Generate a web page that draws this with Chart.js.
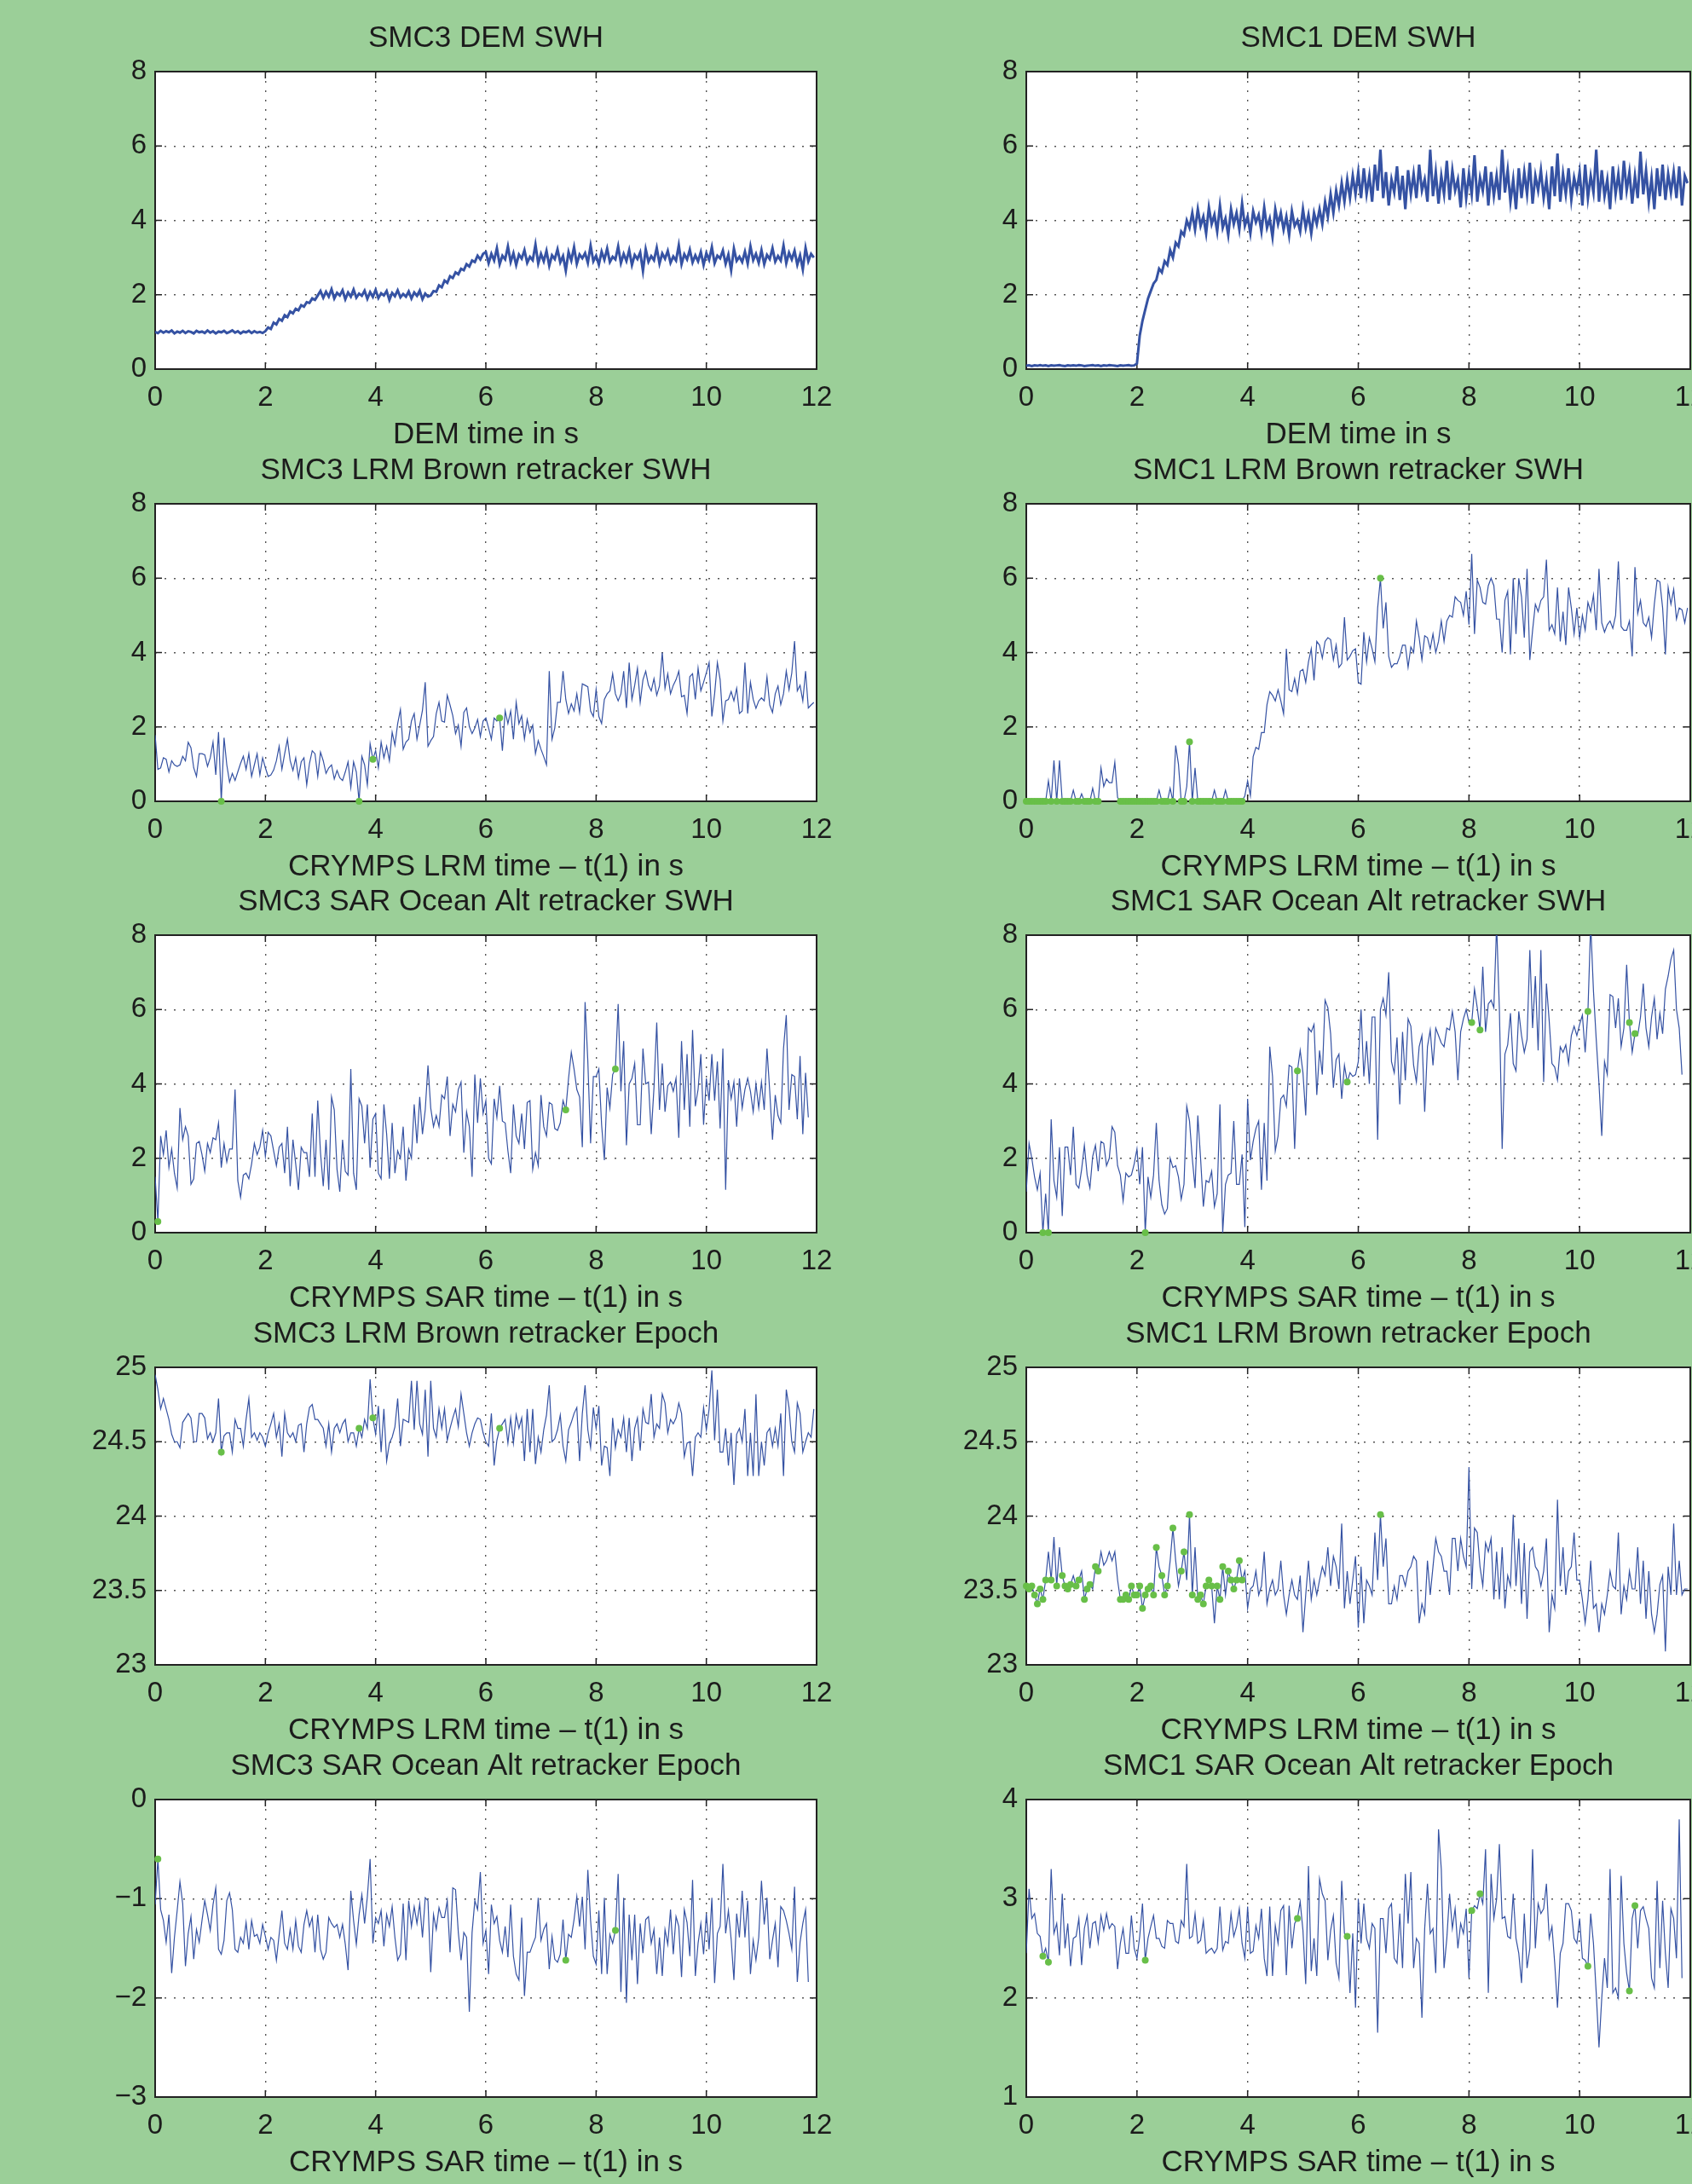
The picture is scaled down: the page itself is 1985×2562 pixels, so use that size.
<!DOCTYPE html>
<html>
<head>
<meta charset="utf-8">
<script src="https://cdn.jsdelivr.net/npm/chart.js@4.4.0/dist/chart.umd.min.js"></script>
<style>
  html, body { margin: 0; padding: 0; overflow: hidden; }
  body { background: #9bcf98; width: 1985px; height: 2562px; position: relative; }
  canvas { position: absolute; }
</style>
</head>
<body>
<script>
// sample spacing (20 Hz) and axis ticks
const timeStep = 0.05;
const timeTicks = [0, 2, 4, 6, 8, 10, 12];
const swhTicks = [0, 2, 4, 6, 8];
const lrmEpochTicks = [23, 23.5, 24, 24.5, 25];
const sar3EpochTicks = [-3, -2, -1, 0];
const sar1EpochTicks = [1, 2, 3, 4];

// DEM SWH
const dem3Swh = [1.00,0.97,1.03,0.98,1.02,0.99,1.04,0.96,1.01,0.98,1.03,0.97,1.02,1.00,0.96,1.03,0.99,1.01,0.97,1.04,
  0.98,1.02,0.96,1.01,0.99,1.03,0.97,1.00,1.04,0.98,1.02,0.96,1.01,0.99,1.03,0.97,1.02,0.98,1.00,0.97,
  1.02,1.12,1.08,1.25,1.20,1.35,1.30,1.45,1.40,1.55,1.50,1.62,1.58,1.72,1.68,1.80,1.78,1.90,1.86,1.98,
  2.10,1.92,2.08,1.95,2.15,1.90,2.05,1.98,2.12,1.88,2.06,1.95,2.14,1.92,2.03,1.97,2.11,1.89,2.07,1.94,
  2.13,1.91,2.04,1.98,2.10,1.86,2.05,1.96,2.12,1.93,2.02,1.95,2.09,1.90,2.06,1.97,2.11,1.88,2.03,1.95,
  1.98,2.10,2.08,2.25,2.20,2.38,2.32,2.50,2.45,2.60,2.55,2.70,2.66,2.82,2.76,2.92,2.88,3.05,2.95,3.10,
  3.15,2.85,3.10,2.92,3.25,2.82,3.05,2.95,3.30,2.88,3.12,2.80,3.08,2.97,3.20,2.86,3.02,2.93,3.35,2.84,
  3.10,2.90,3.18,2.78,3.06,2.96,3.22,2.87,3.04,2.65,3.15,2.92,3.28,2.83,3.08,2.98,3.12,2.86,3.32,2.90,
  3.05,2.81,3.16,2.94,3.24,2.88,3.02,2.95,3.30,2.85,3.10,2.91,3.20,2.80,3.07,2.96,3.14,2.64,3.22,2.89,
  3.04,2.93,3.26,2.84,3.11,2.97,3.18,2.86,3.03,2.92,3.33,2.82,3.09,2.95,3.21,2.87,3.06,2.90,3.15,2.80,
  3.12,2.94,3.28,2.85,3.05,2.98,3.19,2.83,3.08,2.66,3.24,2.91,3.02,2.88,3.16,2.84,3.30,2.93,3.10,2.86,
  3.20,2.82,3.07,2.96,3.25,2.89,3.04,2.92,3.32,2.85,3.13,2.95,3.18,2.81,3.06,2.68,3.26,2.90,3.10,3.00];
const dem1Swh = [0.09,0.10,0.08,0.10,0.09,0.11,0.09,0.10,0.08,0.10,0.09,0.10,0.11,0.09,0.08,0.10,0.09,0.10,0.09,0.11,
  0.10,0.08,0.09,0.10,0.11,0.09,0.10,0.08,0.10,0.09,0.11,0.10,0.09,0.08,0.10,0.09,0.10,0.11,0.09,0.10,
  0.15,0.9,1.3,1.6,1.9,2.1,2.3,2.4,2.7,2.6,2.9,2.8,3.2,3.0,3.4,3.3,3.7,3.6,4.0,3.8,
  4.2,3.75,4.3,3.85,4.1,3.65,4.35,3.9,4.15,3.7,4.4,3.8,4.05,3.6,4.3,3.9,4.2,3.75,4.45,3.85,
  4.1,3.65,4.25,3.95,4.15,3.7,4.35,3.8,4.05,3.55,4.3,3.9,4.2,3.75,4.1,3.6,4.25,3.85,4.0,3.7,
  4.3,3.8,4.15,3.65,4.2,3.9,4.3,3.9,4.5,4.1,4.7,4.2,4.8,4.4,5.0,4.5,5.1,4.6,5.2,4.7,
  5.3,4.6,5.4,4.7,5.2,4.5,5.5,4.8,5.9,4.6,5.3,4.4,5.1,4.75,5.45,4.55,5.2,4.3,5.35,4.7,
  5.25,4.6,5.5,4.8,5.1,4.5,5.9,4.65,5.3,4.45,5.2,4.7,5.6,4.55,5.35,4.8,5.1,4.35,5.4,4.6,
  5.25,4.7,5.75,4.5,5.15,4.8,5.45,4.4,5.3,4.65,5.2,4.55,5.9,4.75,5.35,4.5,5.1,4.3,5.4,4.6,
  5.3,4.7,5.55,4.45,5.2,4.8,5.35,4.6,5.1,4.3,5.45,4.65,5.8,4.5,5.25,4.7,5.4,4.55,5.15,4.8,
  5.3,4.4,5.5,4.6,5.2,4.75,5.9,4.5,5.35,4.65,5.1,4.3,5.45,4.7,5.25,4.55,5.6,4.8,5.3,4.45,
  5.2,4.6,5.85,4.7,5.35,4.5,5.15,4.3,5.4,4.65,5.5,4.55,5.25,4.75,5.3,4.6,5.45,4.4,5.2,5.0];

// LRM Brown retracker SWH
const lrm3Swh = [1.78,0.86,0.90,1.17,1.13,0.79,1.09,0.98,0.94,0.98,1.21,1.09,1.59,1.44,0.90,0.67,1.28,1.28,1.25,0.94,
  1.17,1.59,0.71,1.86,0,
  1.71,0.98,0.52,0.75,0.56,0.79,1.02,1.21,0.86,1.28,0.67,0.98,1.28,0.71,1.17,0.90,0.67,0.71,0.84,1.09,
  1.48,0.86,1.28,1.67,1.09,0.83,1.17,0.63,1.06,1.17,0.44,1.02,1.36,1.28,0.67,1.32,1.09,0.75,0.90,0.98,
  0.60,0.83,0.63,0.56,0.79,1.06,0.37,1.06,0.79,
  0,
  1.21,0.98,0.44,1.55,1.13,1.36,0.90,1.59,1.17,1.48,1.09,1.86,1.51,2.09,2.47,1.40,1.59,1.67,2.16,2.36,
  1.67,2.05,2.45,3.20,
  1.48,1.63,1.74,2.36,2.66,2.16,2.13,2.85,2.59,2.30,1.82,2.05,1.48,2.39,2.51,2.01,1.82,1.97,2.20,1.74,
  2.16,2.24,1.97,1.67,2.24,2.16,2.24,1.36,2.43,2.09,2.43,1.67,2.66,2.09,2.30,1.67,2.20,1.85,2.05,1.28,
  1.63,1.40,1.20,
  0.98,3.50,
  1.67,1.97,2.66,2.66,3.50,2.74,2.36,2.62,2.43,2.89,2.39,3.16,3.12,3.08,2.43,2.28,3.01,2.28,2.09,2.74,
  2.89,2.97,3.43,2.89,2.70,2.89,3.50,2.51,3.73,2.74,3.12,3.58,2.66,3.27,3.50,3.12,2.97,3.30,2.85,3.10,
  4.00,
  3.04,3.43,2.89,3.12,3.27,3.50,2.81,2.85,2.36,3.35,3.43,2.74,3.58,2.97,3.20,3.46,3.73,2.28,2.89,3.73,
  3.27,2.16,2.70,2.74,2.95,2.70,3.04,2.36,2.43,3.73,2.36,3.20,2.74,2.50,2.70,2.78,2.70,3.35,2.59,2.39,
  2.89,3.10,2.60,2.89,3.50,3.00,3.45,
  4.31,
  2.97,3.12,2.70,3.50,2.51,2.59,2.66];
const lrm1Swh = [0,0,0,0,0,0,0,0,0.55,0,1.1,0,1.1,0,0,0,0,0.3,0,0,
  0.2,0,0,0,0.35,0,0,0.9,0.4,0.6,0.5,0.5,1.05,0.1,0,0,0,0,0,0,
  0,0,0,0,0,0,0,0,0.3,0,0,0,0.35,0,1.5,1.0,0,0,0.4,1.6,
  0,0.9,0,0,0,0,0,0,0.3,0,0,0,0.3,0,0,0,0,0,0,0.15,
  0.55,0.15,1.2,1.45,1.4,1.85,1.85,2.6,2.95,2.85,2.7,3.0,2.7,2.35,4.1,3.0,2.95,3.3,2.9,3.5,
  3.55,3.2,3.75,4.1,3.25,4.3,4.2,3.85,4.3,4.4,4.35,3.8,4.2,3.6,3.7,4.95,3.8,3.9,4.05,4.1,
  3.2,3.15,4.55,3.75,4.4,4.1,3.75,5.2,6.0,4.65,5.35,3.9,3.6,3.7,3.7,3.9,4.2,4.2,3.6,4.15,
  4.0,4.85,4.4,3.8,4.45,4.4,4.1,4.5,4.0,4.3,4.85,4.3,4.85,5.0,4.95,5.5,5.4,5.35,5.0,5.65,
  4.75,6.65,4.5,5.95,5.75,5.35,5.3,5.8,6.0,5.8,4.9,4.9,4.0,5.4,5.65,3.95,6.0,4.5,6.0,
  5.5,4.4,6.25,3.8,4.6,5.3,5.1,5.4,5.5,6.5,4.6,4.75,4.5,5.75,4.3,5.1,4.2,5.75,
  5.2,4.5,5.2,4.4,5.0,4.6,5.35,5.1,5.55,4.6,6.25,4.8,4.55,4.75,4.85,4.65,5.0,6.45,
  4.7,4.6,4.6,4.85,3.9,6.3,5.05,5.4,4.8,4.7,4.95,4.4,5.3,5.95,5.9,5.2,3.95,5.75,5.3,
  5.7,4.9,5.2,5.15,4.8,5.2];

// SAR Ocean Alt retracker SWH
const sar3Swh = [1.5,0.3,2.6,2.1,2.75,1.75,2.25,1.6,1.2,3.35,2.5,2.85,2.6,1.3,1.45,2.4,2.45,2.1,1.65,2.4,
  2.15,2.55,2.5,2.95,1.75,2.4,1.9,2.25,2.25,3.85,1.4,0.95,1.55,1.6,1.45,1.85,2.4,2.1,2.3,2.75,
  2.05,2.7,2.6,2.2,1.8,2.3,2.4,1.6,2.85,1.25,2.5,1.85,1.15,2.3,2.15,2.15,1.5,3.2,1.5,3.55,
  2.15,1.25,2.5,1.15,3.65,3.3,1.7,1.1,2.5,1.65,1.55,4.4,1.6,1.15,3.6,3.4,2.4,3.45,1.75,3.05,
  3.2,1.6,1.45,3.45,2.65,1.45,2.95,1.6,2.2,2.0,2.85,1.4,2.25,2.0,3.45,2.4,3.65,2.65,3.3,4.5,
  3.35,2.85,3.15,2.85,3.7,3.6,4.2,2.6,3.45,3.25,3.85,4.05,2.15,3.25,2.85,1.5,4.25,2.95,4.15,3.2,
  3.55,2.0,1.85,3.6,3.1,3.95,3.0,2.95,2.2,1.6,3.45,2.6,2.4,3.2,2.25,3.5,3.55,1.7,2.15,1.8,
  3.7,2.85,2.6,3.5,3.45,2.8,2.75,2.95,3.55,
  3.3,
  4.15,4.85,4.4,3.85,3.65,2.3,6.2,4.6,2.4,4.2,4.2,4.4,2.9,1.95,3.9,3.35,4.25,
  4.4,
  6.15,3.8,5.15,2.35,4.0,4.15,4.55,2.9,2.9,4.95,4.0,4.05,2.65,3.9,5.65,3.3,4.55,3.25,3.95,4.05,
  3.8,4.15,2.55,5.15,3.3,4.8,2.85,5.45,3.4,3.85,4.8,2.9,4.15,3.55,4.8,3.55,4.6,2.8,4.95,1.15,
  4.1,3.6,4.05,2.85,4.15,3.35,3.85,4.15,3.8,3.25,4.0,3.35,4.05,3.3,4.95,3.8,2.5,3.7,3.15,2.95,
  4.95,5.85,3.3,4.25,4.2,3.05,4.75,2.65,4.3,3.1];
const sar1Swh = [1.1,2.4,2.0,1.5,1.15,1.6,0,1.05,0,3.05,1.4,0.95,2.3,0.45,2.3,2.3,1.55,2.85,1.3,1.2,
  1.7,2.35,1.55,1.2,2.05,2.35,1.65,2.45,2.4,1.8,2.0,2.85,2.7,1.8,1.55,0.85,1.6,1.5,1.55,1.85,
  2.25,1.3,2.3,0,1.5,0.95,1.55,2.95,1.4,0.75,0.5,0.65,2.0,1.75,1.8,1.5,0.9,1.3,3.4,3.0,
  2.0,1.2,3.15,2.0,0.7,1.4,1.35,1.65,0.7,1.05,3.45,0,1.3,1.55,1.6,3.0,1.3,1.3,2.1,0.15,
  3.6,1.95,2.45,2.8,3.0,1.15,2.95,1.4,5.0,4.2,2.2,2.6,3.6,3.7,3.4,4.5,4.45,2.25,4.35,4.9,
  4.3,3.15,5.5,5.4,5.6,3.7,4.9,4.25,6.25,6.05,5.35,3.9,4.65,4.8,3.6,4.5,4.05,4.3,4.2,4.25,
  4.6,6.0,4.2,5.15,4.0,5.8,5.8,2.5,6.0,6.3,5.85,7.0,4.6,4.3,5.25,3.45,5.4,4.1,5.75,5.55,
  4.5,4.05,5.0,5.3,3.25,5.0,5.45,4.5,5.5,5.3,5.1,5.0,5.5,5.45,5.95,5.4,4.1,5.4,5.75,6.0,
  5.65,5.65,6.55,6.05,5.45,7.15,5.4,6.15,6.25,6.05,8.3,6.0,2.25,4.8,5.05,5.9,4.55,4.35,5.95,5.3,
  4.85,5.2,7.6,5.5,6.9,4.9,7.6,4.05,6.7,5.7,4.55,4.45,4.1,5.0,4.85,5.05,4.55,5.3,5.55,5.3,
  5.6,5.85,4.85,5.95,8.3,6.5,5.2,4.0,2.6,4.6,4.25,6.4,6.35,5.5,6.3,5.0,5.5,7.2,5.65,4.85,
  5.35,5.3,5.8,6.7,5.5,5.0,5.8,6.3,5.2,5.9,5.35,6.55,6.9,7.35,7.6,6.0,5.5,4.25];

// LRM Brown retracker Epoch
const lrm3Epoch = [24.95,24.85,24.72,24.79,24.72,24.65,24.55,24.50,24.50,24.46,24.63,24.66,24.69,24.66,24.50,24.50,24.69,24.69,24.66,24.52,
  24.56,24.50,24.56,24.79,24.43,
  24.54,24.56,24.56,24.43,24.65,24.59,24.59,24.47,24.65,24.79,24.53,24.56,24.51,24.56,24.53,24.47,24.56,24.62,24.69,24.53,
  24.62,24.40,24.69,24.56,24.53,24.56,24.50,24.61,24.62,24.43,24.62,24.73,24.75,24.65,24.65,24.62,24.59,24.47,24.62,24.43,
  24.59,24.62,24.56,24.62,24.65,24.50,24.56,24.56,24.47,
  24.59,24.53,24.65,24.59,24.92,24.66,
  24.55,24.74,24.43,24.72,24.37,24.49,24.53,24.60,24.79,24.47,24.65,24.64,24.63,24.91,24.58,24.91,24.62,24.55,24.85,24.40,
  24.91,24.59,24.53,24.72,24.59,24.72,24.51,24.59,24.66,24.72,24.60,24.82,24.69,24.56,24.47,24.56,24.62,24.66,24.65,24.56,
  24.50,24.47,24.69,24.34,24.51,
  24.59,
  24.62,24.65,24.49,24.66,24.49,24.68,24.59,24.66,24.37,24.72,24.43,24.72,24.35,24.53,24.43,24.58,24.68,24.88,24.50,24.52,
  24.58,24.68,24.47,24.37,24.58,24.63,24.69,24.73,24.37,24.69,24.88,24.58,24.46,24.73,24.59,24.74,24.34,24.47,24.46,24.27,
  24.66,24.46,24.58,24.53,24.66,24.43,24.66,24.37,24.59,24.66,24.44,24.72,24.63,24.62,24.82,24.53,24.62,24.59,24.82,24.76,
  24.56,24.65,24.62,24.66,24.76,24.69,24.40,24.49,24.50,24.27,24.53,24.56,24.53,24.73,24.58,24.72,24.98,24.51,24.85,24.43,
  24.43,24.59,24.34,24.56,24.21,24.55,24.59,24.50,24.72,24.27,24.56,24.27,24.82,24.27,24.50,24.34,24.56,24.59,24.47,24.59,
  24.47,24.69,24.27,24.85,24.73,24.50,24.43,24.76,24.69,24.43,24.50,24.56,24.53,24.72];
const lrm1Epoch = [23.53,23.51,23.53,23.47,23.41,23.51,23.44,23.57,23.76,23.57,23.86,23.53,23.79,23.60,23.53,23.51,23.54,23.60,23.53,23.57,
  23.63,23.44,23.51,23.54,23.51,23.66,23.63,23.76,23.67,23.70,23.76,23.70,23.76,23.57,23.44,23.44,23.47,23.44,23.53,23.47,
  23.47,23.53,23.38,23.47,23.51,23.53,23.47,23.79,23.66,23.60,23.47,23.53,23.70,23.92,23.70,23.53,23.63,23.76,23.57,
  24.01,
  23.47,23.79,23.44,23.47,23.41,23.53,23.57,23.53,23.28,23.53,23.44,23.66,23.47,23.63,23.57,23.51,23.57,23.70,23.57,23.63,
  23.38,23.51,23.53,23.63,23.47,23.53,23.76,23.41,23.51,23.57,23.47,23.51,23.70,23.47,23.34,23.47,23.57,23.47,23.44,23.60,
  23.22,23.47,23.70,23.44,23.57,23.47,23.57,23.66,23.60,23.79,23.53,23.73,23.66,23.51,23.95,23.38,23.63,23.41,23.57,23.73,
  23.25,23.66,23.28,23.57,23.53,23.47,23.89,23.57,
  24.01,
  23.66,23.85,23.41,23.41,23.53,23.44,23.60,23.60,23.53,23.63,23.66,23.73,23.70,23.28,23.41,23.34,23.70,23.47,23.66,23.85,
  23.76,23.73,23.63,23.63,23.47,23.85,23.85,23.63,23.85,23.73,23.66,24.33,23.51,23.92,23.89,23.66,23.53,23.82,23.76,23.85,
  23.44,23.76,23.44,23.79,23.38,23.60,23.53,24.01,23.53,23.85,23.41,23.82,23.31,23.76,23.79,23.66,23.63,23.53,23.63,23.85,
  23.22,23.47,23.38,24.11,23.53,23.79,23.47,23.63,23.66,23.89,23.57,23.57,23.44,23.28,23.44,23.70,23.38,23.41,23.22,23.41,
  23.34,23.47,23.63,23.53,23.51,23.89,23.34,23.53,23.44,23.63,23.51,23.51,23.79,23.41,23.70,23.31,23.63,23.34,23.22,23.34,
  23.54,23.60,23.09,23.66,23.47,23.95,23.47,23.70,23.47,23.51,23.51];

// SAR Ocean Alt retracker Epoch
const sar3Epoch = [-1.06,-0.6,-1.11,-1.22,-1.44,-1.16,-1.75,-1.39,-1.12,-0.83,-1.05,-1.68,-1.35,-1.18,-1.61,-1.31,-1.44,-1.22,-1.02,-1.16,
  -1.32,-1.06,-0.89,-1.51,-1.56,-1.42,-1.02,-0.94,-1.11,-1.51,-1.54,-1.39,-1.45,-1.24,-1.51,-1.22,-1.38,-1.36,-1.45,-1.26,
  -1.38,-1.51,-1.39,-1.42,-1.62,-1.36,-1.12,-1.45,-1.51,-1.31,-1.51,-1.22,-1.48,-1.54,-1.26,-1.12,-1.28,-1.19,-1.54,-1.16,
  -1.51,-1.61,-1.54,-1.19,-1.25,-1.29,-1.26,-1.39,-1.26,-1.46,-1.72,-0.92,-1.22,-1.46,-1.16,-0.96,-1.25,-0.98,-0.6,-1.45,
  -1.19,-1.25,-1.12,-1.48,-1.16,-1.28,-1.08,-1.39,-1.62,-1.56,-1.05,-1.62,-1.02,-1.28,-1.08,-1.25,-1.05,-1.39,-0.99,-1.02,
  -1.74,-1.16,-1.31,-1.09,-1.19,-1.19,-1.02,-1.54,-0.89,-0.91,-1.34,-1.62,-1.34,-1.39,-2.14,-1.34,-1.02,-1.11,-0.73,-1.45,
  -1.32,-1.76,-1.06,-1.25,-1.18,-1.42,-1.54,-1.28,-1.59,-1.06,-1.58,-1.76,-1.82,-1.19,-1.98,-1.54,-1.54,-1.46,-1.39,-0.99,
  -1.42,-1.31,-1.25,-1.71,-1.38,-1.61,-1.64,-1.56,-1.21,
  -1.62,
  -1.36,-1.39,-1.21,-0.98,-1.28,-0.98,-1.51,-0.71,-1.22,-1.58,-1.66,-1.12,-1.76,-0.99,-1.76,-1.36,-1.45,
  -1.32,
  -0.75,-1.94,-0.99,-2.05,-1.16,-1.62,-1.16,-1.86,-1.25,-1.55,-1.21,-1.18,-1.45,-1.31,-1.76,-1.39,-1.78,-1.31,-1.46,-1.11,
  -1.56,-1.18,-1.28,-1.79,-1.11,-1.24,-1.58,-0.81,-1.78,-1.45,-1.25,-1.56,-1.15,-1.51,-0.99,-1.85,-1.35,-1.28,-0.65,-1.35,
  -1.12,-1.41,-1.82,-1.15,-1.39,-0.92,-1.39,-1.02,-1.76,-1.42,-1.62,-1.39,-0.82,-1.26,-0.99,-1.61,-1.42,-1.25,-1.69,-1.08,
  -1.12,-1.22,-1.35,-1.51,-0.88,-1.84,-1.44,-1.25,-1.11,-1.84];
const sar1Epoch = [2.45,3.1,2.8,2.85,2.65,2.62,2.42,2.5,2.36,3.3,2.65,2.75,2.43,3.05,2.5,2.75,2.32,2.6,2.62,2.8,
  2.33,2.7,2.83,2.5,2.75,2.77,2.56,2.83,2.68,2.85,2.7,2.75,2.72,2.29,2.55,2.7,2.45,2.45,2.83,2.5,
  2.4,2.62,2.95,2.38,2.6,2.72,2.83,2.6,2.6,2.52,2.5,2.78,2.75,2.75,2.57,2.55,2.78,2.72,3.35,2.6,
  2.62,2.85,2.55,2.58,2.78,2.45,2.48,2.5,2.45,2.5,2.92,2.48,2.57,2.55,2.85,2.62,2.72,2.9,2.55,2.4,
  2.92,2.45,2.47,2.73,2.6,2.9,2.4,2.22,2.92,2.22,2.73,2.55,2.88,2.93,2.23,2.93,2.5,2.75,2.8,2.97,
  2.68,2.14,3.33,2.27,2.6,2.22,3.2,3.05,2.98,2.38,2.68,2.83,2.35,2.2,3.18,2.65,2.62,2.05,2.65,1.9,
  3.0,2.55,2.95,2.6,2.5,2.75,2.7,1.65,2.8,2.8,2.45,2.9,2.95,2.4,2.35,2.85,2.3,3.25,2.75,3.27,
  2.3,2.6,2.55,1.8,2.7,3.15,2.65,2.7,2.25,3.7,3.3,2.3,2.6,3.05,2.7,2.9,2.5,2.75,2.65,2.9,
  2.2,2.88,2.93,2.9,3.05,2.95,3.5,2.05,3.25,2.8,3.0,3.55,2.8,2.82,2.62,2.6,3.05,2.6,2.45,2.15,
  2.85,2.3,2.5,3.5,2.5,2.95,2.85,2.9,3.15,2.6,2.72,2.35,1.9,2.45,2.55,2.95,2.95,2.88,2.6,2.55,
  2.8,2.4,2.38,2.32,2.85,2.55,2.05,1.5,2.0,2.4,2.1,3.3,2.05,2.1,2.0,3.23,2.55,2.25,2.07,2.8,
  2.93,2.5,2.88,2.92,2.8,2.7,2.2,2.1,3.18,2.3,2.98,2.45,2.1,2.9,2.8,2.4,3.8,2.2];

// flagged samples (green dots), shared by SWH and Epoch of the same run
const lrm3Flags = [24, 74, 79, 125];
const lrm1Flags = lrm1Swh.flatMap((v, i) => v === 0 ? [i] : []).concat([59, 128]);
const sar3Flags = [1, 149, 167];
const sar1Flags = [6, 8, 43, 98, 116, 161, 164, 203, 218, 220];

const lrmLabel = 'CRYMPS LRM time \u2013 t(1) in s';
const sarLabel = 'CRYMPS SAR time \u2013 t(1) in s';

const panels = [
  { col: 0, row: 0, title: 'SMC3 DEM SWH', xlabel: 'DEM time in s', values: dem3Swh, flags: [], yTicks: swhTicks, lw: 3 },
  { col: 1, row: 0, title: 'SMC1 DEM SWH', xlabel: 'DEM time in s', values: dem1Swh, flags: [], yTicks: swhTicks, lw: 3 },
  { col: 0, row: 1, title: 'SMC3 LRM Brown retracker SWH', xlabel: lrmLabel, values: lrm3Swh, flags: lrm3Flags, yTicks: swhTicks },
  { col: 1, row: 1, title: 'SMC1 LRM Brown retracker SWH', xlabel: lrmLabel, values: lrm1Swh, flags: lrm1Flags, yTicks: swhTicks },
  { col: 0, row: 2, title: 'SMC3 SAR Ocean Alt retracker SWH', xlabel: sarLabel, values: sar3Swh, flags: sar3Flags, yTicks: swhTicks },
  { col: 1, row: 2, title: 'SMC1 SAR Ocean Alt retracker SWH', xlabel: sarLabel, values: sar1Swh, flags: sar1Flags, yTicks: swhTicks },
  { col: 0, row: 3, title: 'SMC3 LRM Brown retracker Epoch', xlabel: lrmLabel, values: lrm3Epoch, flags: lrm3Flags, yTicks: lrmEpochTicks },
  { col: 1, row: 3, title: 'SMC1 LRM Brown retracker Epoch', xlabel: lrmLabel, values: lrm1Epoch, flags: lrm1Flags, yTicks: lrmEpochTicks },
  { col: 0, row: 4, title: 'SMC3 SAR Ocean Alt retracker Epoch', xlabel: sarLabel, values: sar3Epoch, flags: sar3Flags, yTicks: sar3EpochTicks },
  { col: 1, row: 4, title: 'SMC1 SAR Ocean Alt retracker Epoch', xlabel: sarLabel, values: sar1Epoch, flags: sar1Flags, yTicks: sar1EpochTicks }
];

// page geometry
const colLeft = [0, 1080], colWidth = [1000, 950];
const yAxisWidth = [182, 124], padRight = [42, 47];
const rowTop = [84, 591, 1097, 1604, 2111];
const plotH = 349, titleH = 84, xAxisH = 98;

const blue = '#3552a3', green = '#68bf48', ink = '#1c1c1c';
Chart.defaults.font.family = '"Liberation Sans", Arial, Helvetica, sans-serif';
Chart.defaults.color = ink;

// white axes box, frame and inward ticks like matlab
const framePlugin = {
  id: 'frame',
  beforeDraw(chart) {
    const a = chart.chartArea, c = chart.ctx;
    c.save();
    c.fillStyle = '#fff';
    c.fillRect(a.left, a.top, a.right - a.left, a.bottom - a.top);
    c.restore();
  },
  beforeDatasetsDraw(chart) {
    const a = chart.chartArea, c = chart.ctx;
    const sx = chart.scales.x, sy = chart.scales.y;
    c.save();
    c.strokeStyle = '#222';
    c.lineWidth = 1.5;
    c.beginPath();
    sx.ticks.forEach(t => {
      const px = sx.getPixelForValue(t.value);
      c.moveTo(px, a.bottom); c.lineTo(px, a.bottom - 8);
      c.moveTo(px, a.top); c.lineTo(px, a.top + 8);
    });
    sy.ticks.forEach(t => {
      const py = sy.getPixelForValue(t.value);
      c.moveTo(a.left, py); c.lineTo(a.left + 8, py);
      c.moveTo(a.right, py); c.lineTo(a.right - 8, py);
    });
    c.stroke();
    c.lineWidth = 2;
    c.strokeRect(a.left, a.top, a.right - a.left, a.bottom - a.top);
    c.restore();
  }
};

function makeTicks(list) {
  return scale => { scale.ticks = list.map(v => ({ value: v })); };
}

panels.forEach(p => {
  const cv = document.createElement('canvas');
  const w = colWidth[p.col], h = titleH + plotH + xAxisH;
  cv.width = w; cv.height = h;
  cv.style.left = colLeft[p.col] + 'px';
  cv.style.top = (rowTop[p.row] - titleH) + 'px';
  cv.style.width = w + 'px'; cv.style.height = h + 'px';
  document.body.appendChild(cv);

  const pts = p.values.map((v, i) => ({ x: i * timeStep, y: v }));
  const flagPts = p.flags.map(i => ({ x: i * timeStep, y: p.values[i] }));
  const yt = p.yTicks;

  new Chart(cv, {
    type: 'line',
    data: {
      datasets: [
        { data: flagPts, showLine: false, pointRadius: 4, pointBackgroundColor: green,
          pointBorderWidth: 0, clip: false },
        { data: pts, borderColor: blue, borderWidth: p.lw || 1.2, pointRadius: 0, tension: 0 }
      ]
    },
    options: {
      responsive: false,
      animation: false,
      devicePixelRatio: 1,
      layout: { padding: { left: 0, top: 0, right: padRight[p.col], bottom: 0 } },
      plugins: {
        legend: { display: false },
        tooltip: { enabled: false },
        title: {
          display: true, text: p.title, fullSize: false, color: ink,
          font: { size: 35, weight: 'normal' }, padding: { top: 24, bottom: 18 }
        }
      },
      scales: {
        x: {
          type: 'linear', min: 0, max: 12,
          afterBuildTicks: makeTicks(timeTicks),
          afterFit: s => { s.height = xAxisH; },
          ticks: { font: { size: 33 }, color: ink, padding: 14, maxRotation: 0, autoSkip: false },
          grid: { color: '#555', lineWidth: 1.4, drawTicks: false },
          border: { display: false, dash: [2, 9] },
          title: { display: true, text: p.xlabel, color: ink, font: { size: 35 }, padding: { top: 0, bottom: 0 } }
        },
        y: {
          type: 'linear', min: yt[0], max: yt[yt.length - 1],
          afterBuildTicks: makeTicks(yt),
          afterFit: s => { s.width = yAxisWidth[p.col]; },
          ticks: { font: { size: 33 }, color: ink, padding: 10,
                   callback: v => String(v).replace('-', '\u2212') },
          grid: { color: '#555', lineWidth: 1.4, drawTicks: false },
          border: { display: false, dash: [2, 9] }
        }
      }
    },
    plugins: [framePlugin]
  });
});
</script>
</body>
</html>
